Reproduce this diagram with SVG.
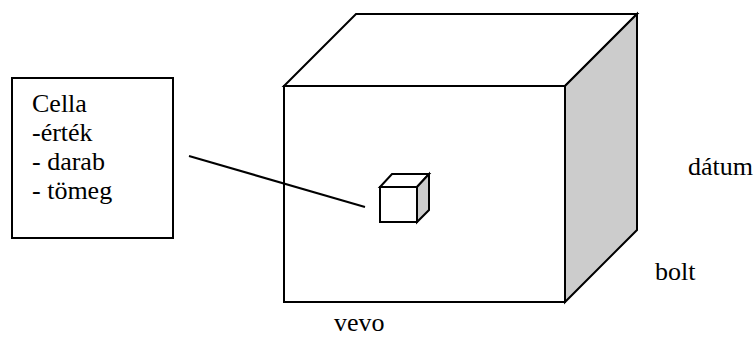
<svg xmlns="http://www.w3.org/2000/svg" width="755" height="354" viewBox="0 0 755 354">
<style>
.s{stroke:#000;stroke-width:2;stroke-linejoin:miter}
.w{fill:#fff}
.g{fill:#cccccc}
.t{font-family:'Liberation Serif','Times New Roman',Times,serif;font-size:26px;fill:#000}
</style>
<rect width="755" height="354" fill="#fff"/>
<g id="cube">
<polygon class="s w" points="284,86 356,14 637,14 565,86"/>
<polygon class="s g" points="565,86 637,14 637,230 565,302"/>
<rect class="s w" x="284" y="86" width="281" height="216"/>
</g>
<g id="cell">
<polygon class="s w" points="380,187 392,174 429,174 417,187"/>
<polygon class="s g" points="417,187 429,174 429,210 417,222"/>
<rect class="s w" x="380" y="187" width="37" height="35"/>
</g>
<g id="cellabox">
<rect class="s w" x="12" y="78" width="161" height="160"/>
<text class="t" x="32" y="112">Cella</text>
<text class="t" x="32" y="141">-érték</text>
<text class="t" x="32" y="170">- darab</text>
<text class="t" x="32" y="199">- tömeg</text>
</g>
<g id="connectors">
<line class="s" x1="189" y1="156" x2="365" y2="207"/>
</g>
<g id="labels">
<text class="t" x="688" y="175">dátum</text>
<text class="t" x="655" y="280">bolt</text>
<text class="t" x="334" y="331">vevo</text>
</g>
</svg>
